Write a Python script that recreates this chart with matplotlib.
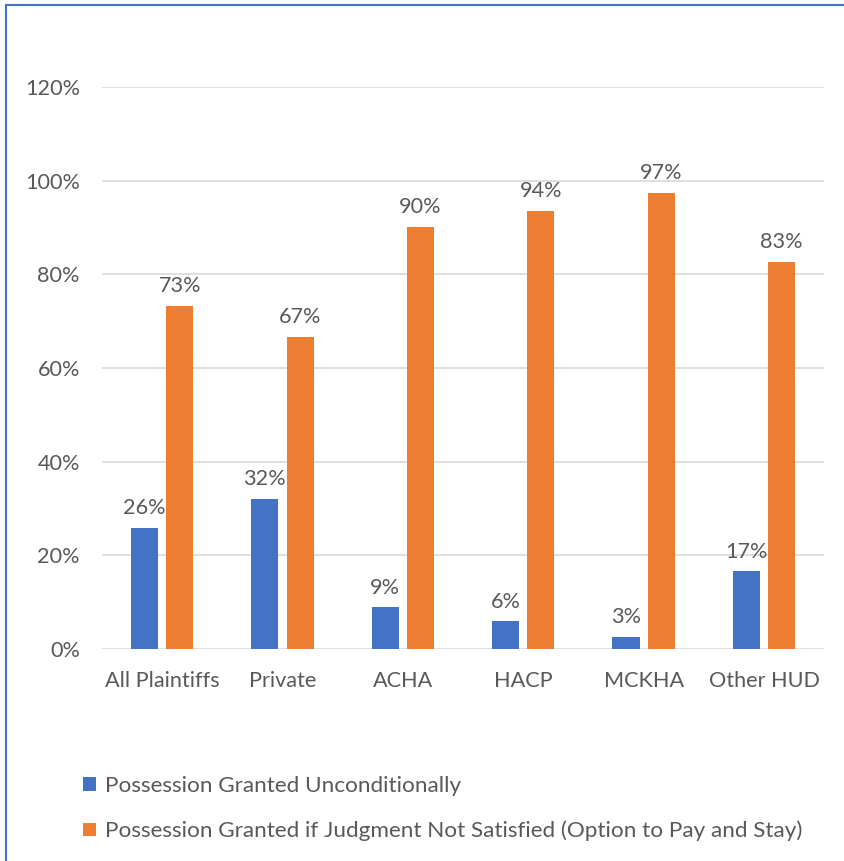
import numpy as np
import matplotlib.pyplot as plt
from matplotlib.lines import Line2D

categories = ['All Plaintiffs', 'Private', 'ACHA', 'HACP', 'MCKHA', 'Other HUD']
unconditional = [25.8, 32.1, 8.9, 5.9, 2.6, 16.6]
pay_and_stay = [73.2, 66.7, 90.1, 93.5, 97.4, 82.6]
series_names = ['Possession Granted Unconditionally',
                'Possession Granted if Judgment Not Satisfied (Option to Pay and Stay)']
yticks = [0, 20, 40, 60, 80, 100, 120]

plt.rcParams['font.family'] = ['Lato', 'DejaVu Sans']
text_color = '#595959'
blue = '#4472C4'
orange = '#ED7D31'
fs = 15.6

fig = plt.figure(figsize=(8.45, 8.61), dpi=100)
ax = fig.add_axes([0.1207, 0.2462, 0.855, 0.6528])

x = np.arange(len(categories))
w = 0.225
b1 = ax.bar(x - 0.148, unconditional, w, color=blue, label=series_names[0])
b2 = ax.bar(x + 0.145, pay_and_stay, w, color=orange, label=series_names[1])

for bars, vals in ((b1, unconditional), (b2, pay_and_stay)):
    for rect, v in zip(bars, vals):
        ax.annotate(f'{round(v)}%', (rect.get_x() + rect.get_width() / 2, v),
                    xytext=(0, 7), textcoords='offset points',
                    ha='center', va='bottom', fontsize=fs, color=text_color)

ax.set_xlim(-0.5, len(categories) - 0.5)
ax.set_ylim(0, 120)
ax.set_yticks(yticks)
ax.set_yticklabels([f'{t}%' for t in yticks])
ax.set_xticks(x)
ax.set_xticklabels(categories)
ax.tick_params(axis='both', length=0, labelsize=fs, labelcolor=text_color)
ax.tick_params(axis='y', pad=16)
ax.tick_params(axis='x', pad=16)
ax.yaxis.grid(True, color='#d9d9d9', linewidth=1.2)
ax.set_axisbelow(True)
for s in ax.spines.values():
    s.set_visible(False)

fig.legend(handles=[b1, b2], labels=series_names, loc='upper left',
           bbox_to_anchor=(0.088, 0.109), frameon=False, fontsize=16.2,
           handlelength=0.55, handleheight=0.55, handletextpad=0.4,
           labelspacing=1.1, labelcolor=text_color, borderaxespad=0)

# chart border (top and left edges visible)
fig.add_artist(Line2D([6 / 845, 1], [1 - 5 / 861, 1 - 5 / 861], transform=fig.transFigure,
                      color=blue, linewidth=1.5))
fig.add_artist(Line2D([6 / 845, 6 / 845], [0, 1 - 5 / 861], transform=fig.transFigure,
                      color=blue, linewidth=1.5))

fig.savefig('out.png', dpi=100)
